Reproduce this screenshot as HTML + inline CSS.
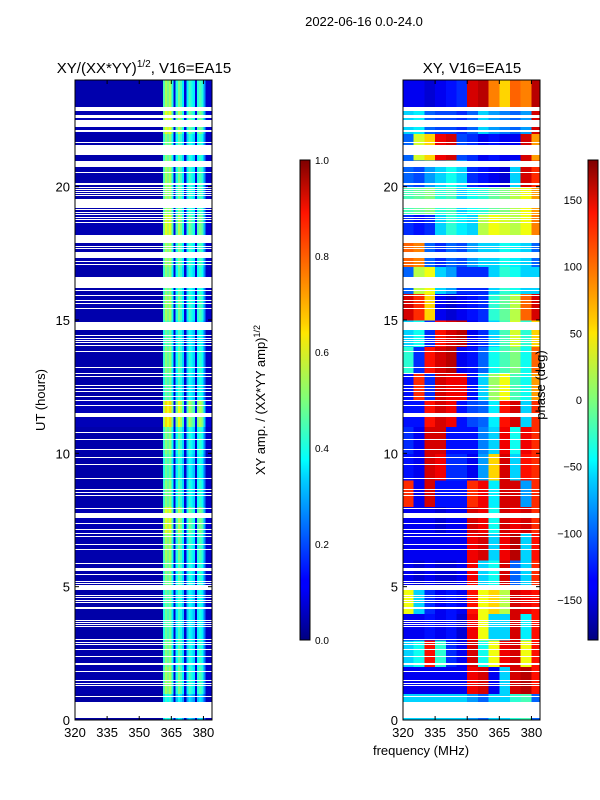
<!DOCTYPE html>
<html><head><meta charset="utf-8"><style>
body{margin:0;background:#fff;}
svg{display:block;font-family:"Liberation Sans","DejaVu Sans",sans-serif;}
</style></head><body>
<svg id="c" width="600" height="800" viewBox="0 0 600 800">
<defs>
<linearGradient id="jetV" x1="0" y1="1" x2="0" y2="0">
<stop offset="0" stop-color="#00007f"/><stop offset="0.11" stop-color="#0000ff"/><stop offset="0.125" stop-color="#0000ff"/>
<stop offset="0.34" stop-color="#00d4ff"/><stop offset="0.375" stop-color="#0ff"/><stop offset="0.5" stop-color="#7dff7a"/>
<stop offset="0.64" stop-color="#ffe600"/><stop offset="0.66" stop-color="#ffd000"/><stop offset="0.89" stop-color="#ff1300"/><stop offset="1" stop-color="#7f0000"/>
</linearGradient>
<clipPath id="clipL"><rect x="75" y="80" width="137" height="640"/></clipPath>
<clipPath id="clipR"><rect x="403" y="80" width="137" height="640"/></clipPath>
</defs>
<text x="364" y="26" font-size="13" text-anchor="middle">2022-06-16 0.0-24.0</text>
<text x="144" y="73" font-size="15" text-anchor="middle">XY/(XX*YY)<tspan font-size="10" dy="-6">1/2</tspan><tspan dy="6">, V16=EA15</tspan></text>
<text x="472" y="73" font-size="15" text-anchor="middle">XY, V16=EA15</text>
<g id="left" clip-path="url(#clipL)" shape-rendering="crispEdges"></g>
<g id="right" clip-path="url(#clipR)" shape-rendering="crispEdges"></g>
<g id="axes"></g>
<rect x="300" y="160" width="10" height="480" fill="url(#jetV)" stroke="#000" stroke-width="1"/>
<rect x="588" y="160" width="10" height="480" fill="url(#jetV)" stroke="#000" stroke-width="1"/>
<text transform="translate(265,400) rotate(-90)" font-size="13" text-anchor="middle">XY amp. / (XX*YY amp)<tspan font-size="9" dy="-5">1/2</tspan></text>
<text transform="translate(545,385) rotate(-90)" font-size="13" text-anchor="middle">phase (deg)</text>
<text transform="translate(45,400) rotate(-90)" font-size="13" text-anchor="middle">UT (hours)</text>
<text x="421" y="755" font-size="13" text-anchor="middle">frequency (MHz)</text>
</svg>
<script>
const freqStart = 320, freqStep = 1;
const ampProfile = [0.05,0.05,0.05,0.05,0.05,0.05,0.05,0.05,0.05,0.05,0.05,0.05,0.05,0.05,0.05,0.05,0.05,0.05,0.05,0.05,0.05,0.05,0.05,0.05,0.05,0.05,0.05,0.05,0.05,0.05,0.05,0.05,0.05,0.05,0.05,0.05,0.05,0.05,0.05,0.05,0.05,0.5,0.6,0.55,0.6,0.45,0.1,0.45,0.55,0.5,0.4,0.1,0.4,0.5,0.45,0.4,0.1,0.45,0.5,0.45,0.3,0.08,0.08,0.08];
const ampRowGain = [0.7,0.9,0.85,0.8,0.8,0.85,0.9,1.0,0.85,0.8,0.85,1.1,0.8,0.85,0.8,0.9,0.85,0.9,1.0,0.9,0.9,0.85,1.0,0.9];
const phaseFreqStart = 320, phaseFreqStep = 5;
const phaseRows = [
[-60,-60,-60,-60,-60,-60,-80,-100,-60,-60,-30,-20,-100],
[-140,-140,-140,-140,-140,-140,140,150,-140,-60,150,160,130],
[-60,-40,130,-30,-120,-140,150,-40,40,140,150,40,130],
[-140,-140,-130,-140,-130,-150,140,40,-60,-60,150,-50,130],
[40,-60,-120,-140,-130,-140,130,40,60,20,150,140,130],
[-140,-150,-140,-150,-150,-140,140,-60,-40,150,-100,-60,120],
[-140,-140,-140,-140,-140,-140,140,150,-60,140,160,-60,130],
[-140,-140,-140,-150,-140,-140,150,140,-40,150,140,150,120],
[120,-140,150,-130,-130,-130,120,140,-50,150,150,-80,120],
[-130,-140,150,140,-120,-120,-140,-80,60,150,-60,130,120],
[-120,-140,150,150,-130,-130,-130,-90,-60,140,-40,140,120],
[-130,-130,130,150,140,-130,-110,-100,-50,130,150,-60,120],
[-130,120,-120,150,140,140,-130,-60,10,40,-20,-40,80],
[-30,-120,130,150,160,-140,-130,-100,-40,-20,0,-40,100],
[-60,-40,-120,130,150,160,-140,-120,-60,-20,30,-30,60],
[150,120,60,-140,-150,-140,-130,-120,-30,-10,20,100,150],
[-100,20,40,-60,-80,-120,-120,-120,-60,-30,-40,-60,-60],
[100,90,-100,-120,-100,-110,-80,-60,-60,-40,-50,-60,-100],
[-120,-130,-120,-60,-30,-50,-60,20,40,30,20,40,90],
[-20,-10,0,-30,-20,-60,-40,-30,-10,0,20,40,80],
[-100,-110,-80,-60,-40,-60,-120,-130,-140,-150,-60,150,120],
[-100,30,60,140,150,-110,-120,-140,-130,-140,-140,150,80],
[-60,-50,-100,-110,-110,-120,-100,-60,-80,-90,-100,-80,150],
[-140,-140,-150,-140,-130,-120,150,160,90,60,100,90,160]];
const wideGaps = [[22.84,22.99],[22.58,22.69],[22.24,22.5],[22.05,22.13],[21.64,21.68],[21.19,21.56],[20.74,20.96],[20.51,20.55],[20.06,20.14],[19.2,19.54],[17.89,18.19],[17.33,17.55],[16.2,16.61],[14.63,14.93],[11.36,11.51],[7.58,7.76],[5.59,5.7],[4.88,5.06],[4.16,4.24],[0.08,0.68]];
const thinGaps = [19.99,19.91,19.84,19.76,19.69,19.16,19.05,18.98,18.86,18.79,18.68,17.78,17.7,17.21,17.1,16.13,15.94,15.75,15.64,15.45,14.44,14.33,14.25,14.18,14.06,13.84,13.24,13.01,12.9,12.56,12.45,12.34,12.15,12.0,11.81,10.8,10.54,10.16,9.86,9.6,9.08,8.66,8.55,8.44,7.95,7.39,7.16,7.01,6.9,6.6,6.41,5.89,5.48,5.21,5.14,4.69,4.61,4.5,4.43,3.75,3.68,3.6,3.53,3.04,2.93,2.85,2.66,2.4,2.14,2.1,1.84,1.5,1.39,1.31,0.9];
const xTicks = [320,335,350,365,380];
const yTicks = [0,5,10,15,20];
const ampCbTicks = [0.0,0.2,0.4,0.6,0.8,1.0];
const phaseCbTicks = [150,100,50,0,-50,-100,-150];

const NS='http://www.w3.org/2000/svg';
const svg=document.getElementById('c');
function mk(t,a,p){const e=document.createElementNS(NS,t);for(const k in a)e.setAttribute(k,a[k]);(p||svg).appendChild(e);return e;}
function jet(v){v=Math.max(0,Math.min(1,v));
 const r=Math.max(0,Math.min(1,Math.min(4*v-1.5,-4*v+4.5)));
 const g=Math.max(0,Math.min(1,Math.min(4*v-0.5,-4*v+3.5)));
 const b=Math.max(0,Math.min(1,Math.min(4*v+0.5,-4*v+2.5)));
 return 'rgb('+Math.round(r*255)+','+Math.round(g*255)+','+Math.round(b*255)+')';}
function yS(h){return 720-(h/24)*640;}
function xL(f){return 75+(f-320)/64*137;}
function xR(f){return 403+(f-320)/64*137;}

const L=document.getElementById('left'), R=document.getElementById('right');
for(let r=0;r<ampRowGain.length;r++){
 for(let c=0;c<ampProfile.length;c++){
  const f=freqStart+c*freqStep;
  const el=mk('rect',{x:xL(f),y:yS(r+1),width:xL(f+freqStep)-xL(f)+0.5,height:yS(r)-yS(r+1)+0.5,fill:jet(ampProfile[c]*ampRowGain[r])},L);
  
  
 }
}
for(let r=0;r<phaseRows.length;r++){
 for(let c=0;c<phaseRows[r].length;c++){
  const f=phaseFreqStart+c*phaseFreqStep;
  const el=mk('rect',{x:xR(f),y:yS(r+1),width:xR(f+phaseFreqStep)-xR(f)+0.5,height:yS(r)-yS(r+1)+0.5,fill:jet((phaseRows[r][c]+180)/360)},R);
  
  
 }
}
[[L,75],[R,403]].forEach(([g,x0])=>{
 wideGaps.forEach(gp=>{const y1=Math.round(yS(gp[1])),y2=Math.round(yS(gp[0]));
  const el=mk('rect',{x:x0,y:y1,width:137,height:Math.max(1,y2-y1),fill:'#fff'},g);
  
  });
 thinGaps.forEach(h=>{const el=mk('rect',{x:x0,y:Math.round(yS(h)),width:137,height:1,fill:'#fff'},g);
  
  });
});
const A=document.getElementById('axes');
[[75,xL],[403,xR]].forEach(([x0,xf],i)=>{
 const fr=mk('rect',{x:x0,y:80,width:137,height:640,fill:'none',stroke:'#000','stroke-width':1},A);
 
 
 xTicks.forEach(t=>{const x=xf(t);
  mk('line',{x1:x,y1:720,x2:x,y2:716,stroke:'#000'},A);mk('line',{x1:x,y1:80,x2:x,y2:84,stroke:'#000'},A);
  const tx=mk('text',{x:x,y:737,'font-size':13,'text-anchor':'middle'},A);tx.textContent=t;
  
  });
 yTicks.forEach(t=>{const y=yS(t);
  mk('line',{x1:x0,y1:y,x2:x0+4,y2:y,stroke:'#000'},A);mk('line',{x1:x0+137,y1:y,x2:x0+133,y2:y,stroke:'#000'},A);
  const tx=mk('text',{x:x0-5,y:y+5,'font-size':13,'text-anchor':'end'},A);tx.textContent=t;
  
  });
});
ampCbTicks.forEach(t=>{const y=640-t*480;
 mk('line',{x1:306,y1:y,x2:310,y2:y,stroke:'#000'},A);
 const tx=mk('text',{x:315,y:y+4,'font-size':10},A);tx.textContent=t.toFixed(1);
 
 });
phaseCbTicks.forEach(t=>{const y=400-t*(480/360);
 mk('line',{x1:594,y1:y,x2:598,y2:y,stroke:'#000'},A);
 const tx=mk('text',{x:582,y:y+4,'font-size':11,'text-anchor':'end'},A);tx.textContent=(t<0?'\u2212'+(-t):t);
 
 });
</script>
</body></html>
